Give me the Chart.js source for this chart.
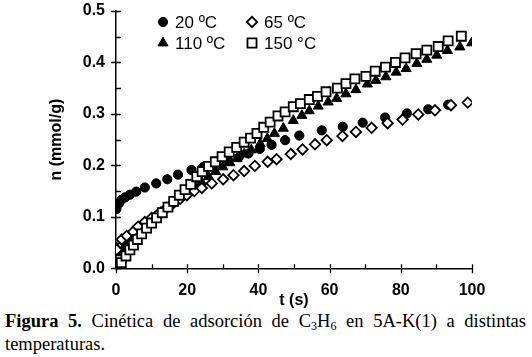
<!DOCTYPE html>
<html>
<head>
<meta charset="utf-8">
<script src="https://cdn.jsdelivr.net/npm/chart.js@4.4.0/dist/chart.umd.min.js"></script>
<style>
  body { margin: 0; background: #fff; }
  #wrap { position: relative; width: 532px; height: 310px; }
  #cap {
    width: 521px; margin-left: 5px;
    font-family: "Liberation Serif", "Times New Roman", serif;
    font-size: 18.5px; line-height: 23px; text-align: justify; color: #000;
  }
  #cap sub { font-size: 12px; vertical-align: -3px; line-height: 0; }
</style>
</head>
<body>
<div id="wrap"><canvas id="kinetics"></canvas></div>
<div id="cap"><b>Figura 5.</b> Cinética de adsorción de C<sub>3</sub>H<sub>6</sub> en 5A-K(1) a distintas temperaturas.</div>
<script>
// series: t in s, n in mmol/g
const t20 = [0.1, 0.8, 1.5, 2.6, 3.9, 5.7, 8.1, 11.3, 14.4, 17.4, 21.2, 24.5, 28, 31.5, 34.5, 37.2, 40.4, 43.7, 47.5, 51.5, 57.8, 63.7, 69.3, 75.6, 81.7, 87.7, 93.3];
const n20 = [0.115, 0.126, 0.133, 0.138, 0.143, 0.149, 0.157, 0.165, 0.173, 0.182, 0.191, 0.197, 0.204, 0.210, 0.216, 0.223, 0.232, 0.240, 0.249, 0.258, 0.268, 0.275, 0.283, 0.293, 0.301, 0.309, 0.318];

const t65 = [0.2, 1.6, 3, 4.8, 6.2, 8.1, 10, 12, 14, 16, 18, 19.9, 22, 24.1, 26.9, 30.1, 33, 36, 39, 42.6, 45.1, 49.1, 52.4, 55.9, 59.2, 63.6, 67.4, 71.8, 76.3, 80.5, 84.9, 89.6, 94.1, 98.8];
const n65 = [0.036, 0.056, 0.063, 0.071, 0.081, 0.090, 0.098, 0.106, 0.116, 0.126, 0.135, 0.142, 0.150, 0.156, 0.165, 0.173, 0.181, 0.189, 0.199, 0.207, 0.212, 0.222, 0.231, 0.241, 0.249, 0.257, 0.265, 0.273, 0.282, 0.289, 0.299, 0.307, 0.317, 0.322];

const t110 = [0.2, 1, 2, 3, 4.2, 5.4, 6.6, 8, 9.5, 11, 12.6, 14.2, 15.8, 17.4, 19, 20.6, 22.3, 24, 26, 28, 30, 32, 34, 36, 38, 40.5, 42.5, 44.5, 47, 49.8, 52.2, 54.3, 56.8, 59.6, 62, 64.6, 67.4, 70.6, 73, 75.8, 78.7, 81.5, 84.5, 87.3, 90.1, 93.1, 96.6, 99.9];
const n110 = [0.040, 0.030, 0.038, 0.046, 0.055, 0.064, 0.073, 0.083, 0.092, 0.100, 0.109, 0.118, 0.126, 0.134, 0.142, 0.150, 0.158, 0.168, 0.178, 0.188, 0.197, 0.205, 0.213, 0.222, 0.230, 0.242, 0.252, 0.262, 0.272, 0.287, 0.297, 0.306, 0.315, 0.323, 0.330, 0.339, 0.347, 0.358, 0.365, 0.372, 0.381, 0.388, 0.398, 0.406, 0.414, 0.423, 0.430, 0.438];

const t150 = [0, 1.5, 2.8, 3.9, 4.9, 6, 7.2, 8.6, 10, 11.4, 13, 14.6, 16.2, 17.8, 19.4, 21, 22.7, 24.2, 26, 27.9, 29.8, 31.8, 33.9, 36, 37.8, 39.6, 41.5, 43.3, 45.5, 47.5, 49.8, 51.8, 54.3, 56.6, 59, 62.2, 64.6, 67.1, 70.2, 72.8, 75.7, 78.5, 81.2, 84.3, 87.3, 90.5, 93.3, 97];
const n150 = [0.001, 0.011, 0.024, 0.036, 0.045, 0.056, 0.067, 0.078, 0.088, 0.098, 0.108, 0.119, 0.130, 0.142, 0.153, 0.163, 0.178, 0.188, 0.198, 0.207, 0.217, 0.226, 0.235, 0.245, 0.253, 0.262, 0.274, 0.284, 0.296, 0.304, 0.314, 0.320, 0.328, 0.334, 0.343, 0.350, 0.359, 0.368, 0.373, 0.383, 0.391, 0.400, 0.409, 0.417, 0.424, 0.431, 0.442, 0.451];

const seriesLabels = ['20 ºC', '65 ºC', '110 ºC', '150 °C'];
const xRange = [0, 100];
const yRange = [0, 0.5];

const pts = (ts, ns) => ts.map((t, i) => ({ x: t, y: ns[i] }));
const FONT = '"Liberation Sans", Arial, sans-serif';

// axis tick marks: majors cross the axis, minors point inward
const tickMarks = {
  id: 'tickMarks',
  afterDraw(chart) {
    const { ctx, chartArea: a, scales: { x, y } } = chart;
    ctx.save();
    ctx.strokeStyle = '#000';
    ctx.lineWidth = 1.3;
    ctx.beginPath();
    for (let v = 0; v <= 100; v += 10) {
      const px = Math.round(x.getPixelForValue(v)) + 0.5;
      ctx.moveTo(px, a.bottom - 4);
      ctx.lineTo(px, v % 20 === 0 ? a.bottom + 5 : a.bottom);
    }
    for (let i = 0; i <= 10; i++) {
      const py = Math.round(y.getPixelForValue(i * 0.05)) + 0.5;
      ctx.moveTo(i % 2 === 0 ? a.left - 5 : a.left, py);
      ctx.lineTo(a.left + 5, py);
    }
    ctx.stroke();
    ctx.restore();
  }
};

// 2x2 legend inside the plot
const legendBox = {
  id: 'legendBox',
  afterDraw(chart) {
    const ctx = chart.ctx;
    const cols = [163, 252], rows = [22, 43];
    ctx.save();
    ctx.font = '17px ' + FONT;
    ctx.textBaseline = 'middle';
    chart.data.datasets.forEach((ds, i) => {
      const px = cols[i % 2], py = rows[Math.floor(i / 2)];
      ctx.fillStyle = ds.pointBackgroundColor;
      ctx.strokeStyle = '#000';
      ctx.lineWidth = ds.pointBorderWidth;
      Chart.helpers.drawPoint(ctx, {
        pointStyle: ds.pointStyle, radius: ds.pointRadius,
        borderWidth: ds.pointBorderWidth, rotation: 0
      }, px, py);
      ctx.fillStyle = '#000';
      ctx.fillText(ds.label, px + 12, py + 1);
    });
    ctx.restore();
  }
};

// invisible tick space keeps labels off the axis without inflating the layout padding
const hiddenTicks = (len) => ({
  display: true, drawOnChartArea: false, drawTicks: true, tickLength: len, tickColor: 'rgba(0,0,0,0)'
});

const ctx = document.getElementById('kinetics').getContext('2d');
const chart = new Chart(ctx, {
  type: 'scatter',
  data: {
    datasets: [
      { label: seriesLabels[0], data: pts(t20, n20), pointStyle: 'circle', pointRadius: 4.6,
        pointBackgroundColor: '#000', pointBorderColor: '#000', pointBorderWidth: 1, order: 4 },
      { label: seriesLabels[1], data: pts(t65, n65), pointStyle: 'rectRot', pointRadius: 5.2,
        pointBackgroundColor: '#fff', pointBorderColor: '#000', pointBorderWidth: 1.8, order: 2 },
      { label: seriesLabels[2], data: pts(t110, n110), pointStyle: 'triangle', pointRadius: 5.8,
        pointBackgroundColor: '#000', pointBorderColor: '#000', pointBorderWidth: 1, order: 3 },
      { label: seriesLabels[3], data: pts(t150, n150), pointStyle: 'rect', pointRadius: 6.4,
        pointBackgroundColor: '#fff', pointBorderColor: '#000', pointBorderWidth: 1.8, order: 1 }
    ]
  },
  options: {
    responsive: true,
    maintainAspectRatio: false,
    animation: false,
    devicePixelRatio: 1,
    layout: { padding: { left: 47, right: 60, top: 11, bottom: 0 } },
    scales: {
      x: {
        type: 'linear', min: xRange[0], max: xRange[1],
        afterFit(s) { s.height = 41.7; },
        grid: hiddenTicks(13),
        border: { display: true, color: '#000', width: 1.5 },
        ticks: { stepSize: 20, padding: 0, color: '#000', font: { family: FONT, size: 16, weight: 'bold' } },
        title: { display: true, text: 't (s)', color: '#000', padding: 0,
                 font: { family: FONT, size: 16, weight: 'bold' } }
      },
      y: {
        type: 'linear', min: yRange[0], max: yRange[1],
        afterFit(s) { s.width = 69; },
        grid: hiddenTicks(11),
        border: { display: true, color: '#000', width: 1.5 },
        ticks: { stepSize: 0.1, padding: 0, color: '#000', font: { family: FONT, size: 16, weight: 'bold' },
                 callback: v => v.toFixed(1) },
        title: { display: true, text: 'n (mmol/g)', color: '#000', padding: 0,
                 font: { family: FONT, size: 16, weight: 'bold' } }
      }
    },
    plugins: {
      legend: { display: false },
      tooltip: { enabled: false }
    }
  },
  plugins: [tickMarks, legendBox]
});
</script>
</body>
</html>
